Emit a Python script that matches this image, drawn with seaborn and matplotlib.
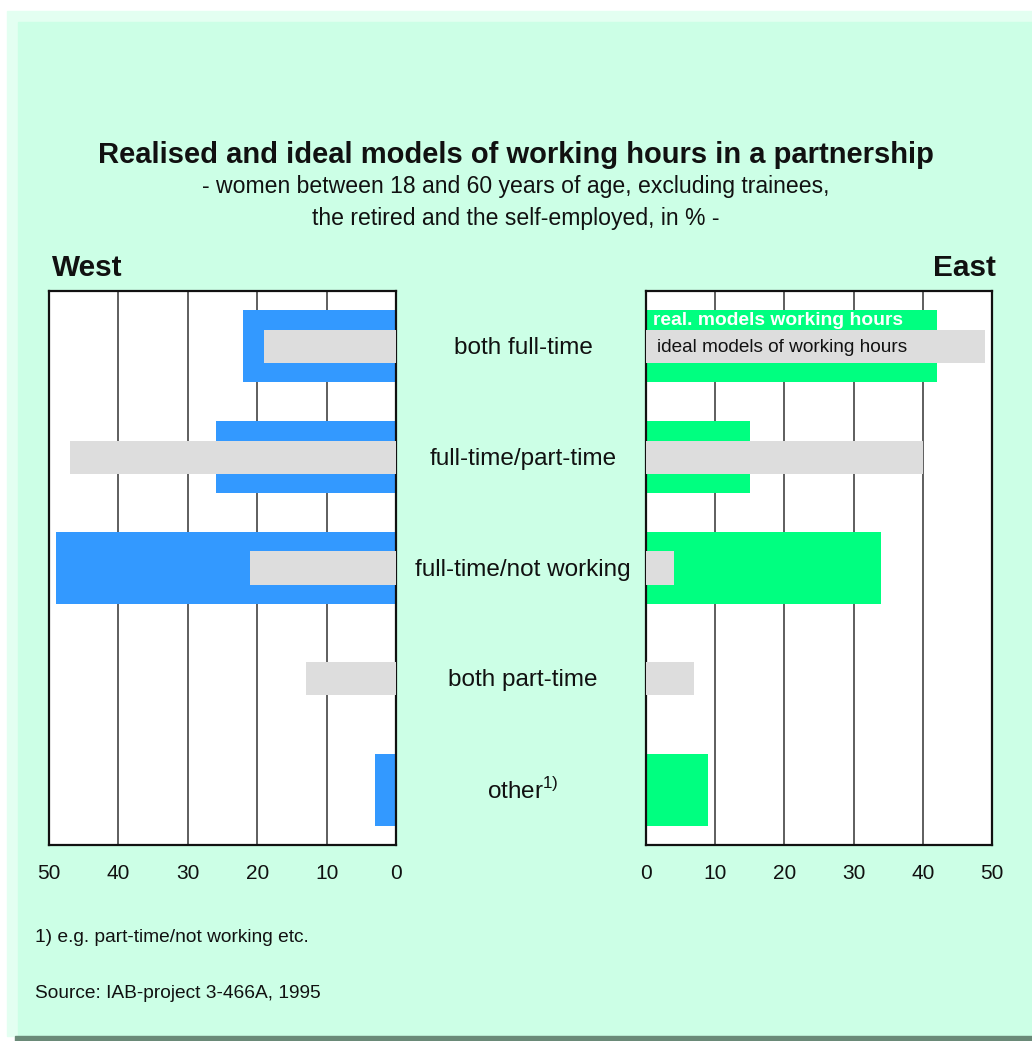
import matplotlib
matplotlib.use("Agg")
import matplotlib.pyplot as plt
import matplotlib.patches as mpatches
import matplotlib.transforms as mtransforms
import seaborn as sns
import pandas as pd

# ---- data ----
categories = ["both full-time", "full-time/part-time", "full-time/not working",
              "both part-time", "other"]
category_labels = ["both full-time", "full-time/part-time", "full-time/not working",
                   "both part-time", "other$^{\\mathrm{1)}}$"]
west_real = [22, 26, 49, 0, 3]
west_ideal = [19, 47, 21, 13, 0]
east_real = [42, 15, 34, 0, 9]
east_ideal = [49, 40, 4, 7, 0]
ticks = [0, 10, 20, 30, 40, 50]

sns.set_theme(style="white")
plt.rcParams["font.family"] = ["Liberation Sans", "DejaVu Sans"]
plt.rcParams["mathtext.fontset"] = "custom"
plt.rcParams["mathtext.rm"] = "Liberation Sans"

W, H = 1032, 1041
fig = plt.figure(figsize=(W / 100, H / 100), dpi=100, facecolor="white")

def fx(px):
    return px / W

def fy(py):
    return 1 - py / H

# background panels
fig.patches.append(mpatches.Rectangle((fx(7), fy(1036)), fx(W - 7), fy(11) - fy(1036),
                                      transform=fig.transFigure, color="#e3fff1", zorder=-3))
fig.patches.append(mpatches.Rectangle((fx(18), fy(1036)), fx(W - 18), fy(22) - fy(1036),
                                      transform=fig.transFigure, color="#ccffe6", zorder=-2))
fig.patches.append(mpatches.Rectangle((fx(15), 0), fx(W - 15), fy(1036),
                                      transform=fig.transFigure, color="#6a8a78", zorder=-2))

BLUE = "#3399ff"
GREEN = "#00ff80"
GRAY = "#dddddd"

ax_top, ax_bot = 291, 845
axL = fig.add_axes([fx(49), fy(ax_bot), fx(396 - 49), fy(ax_top) - fy(ax_bot)])
axR = fig.add_axes([fx(646), fy(ax_bot), fx(992 - 646), fy(ax_top) - fy(ax_bot)])

dfW = pd.DataFrame({"cat": categories, "real": west_real, "ideal": west_ideal})
dfE = pd.DataFrame({"cat": categories, "real": east_real, "ideal": east_ideal})

for ax, df, col in [(axL, dfW, BLUE), (axR, dfE, GREEN)]:
    ax.set_facecolor("white")
    sns.barplot(data=df, y="cat", x="real", order=categories, orient="h",
                color=col, saturation=1, width=0.65, ax=ax, zorder=2)
    sns.barplot(data=df, y="cat", x="ideal", order=categories, orient="h",
                color=GRAY, saturation=1, width=0.30, ax=ax, zorder=3)
    for p in ax.patches:
        p.set_edgecolor("none")
    ax.set_xlim(0, 50)
    ax.set_ylim(4.5, -0.5)
    ax.set_xticks(ticks)
    ax.set_xticklabels([str(t) for t in ticks], fontsize=15, color="#111111")
    ax.set_yticks([])
    ax.set_xlabel("")
    ax.set_ylabel("")
    ax.set_axisbelow(True)
    ax.grid(axis="x", color="#333333", linewidth=1.1)
    ax.grid(axis="y", visible=False)
    ax.tick_params(axis="x", length=0, pad=14)
    for s in ax.spines.values():
        s.set_visible(True)
        s.set_color("#111111")
        s.set_linewidth(1.6)

axL.invert_xaxis()

# category labels between panels
trans = mtransforms.blended_transform_factory(fig.transFigure, axR.transData)
for i, lab in enumerate(category_labels):
    axR.text(fx(523), i + 0.015, lab, transform=trans, ha="center", va="center",
             fontsize=17.5, color="#111111", clip_on=False)

# legend texts on east bars
axR.text(0.95, -0.235, "real. models working hours", ha="left", va="center",
         fontsize=13.9, fontweight="bold", color="white", zorder=5)
axR.text(1.6, 0.01, "ideal models of working hours", ha="left", va="center",
         fontsize=13.7, color="#111111", zorder=5)

# titles
fig.text(0.5, fy(155), "Realised and ideal models of working hours in a partnership",
         ha="center", va="center", fontsize=21, fontweight="bold", color="#111111")
fig.text(0.5, fy(187), "- women between 18 and 60 years of age, excluding trainees,",
         ha="center", va="center", fontsize=16.6, color="#111111")
fig.text(0.5, fy(218), "the retired and the self-employed, in % -",
         ha="center", va="center", fontsize=16.6, color="#111111")
fig.text(fx(52), fy(268), "West", ha="left", va="center", fontsize=21.4,
         fontweight="bold", color="#111111")
fig.text(fx(996), fy(268), "East", ha="right", va="center", fontsize=21.4,
         fontweight="bold", color="#111111")

# footnotes
fig.text(fx(35), fy(938), "1) e.g. part-time/not working etc.", ha="left", va="center",
         fontsize=13.8, color="#111111")
fig.text(fx(35), fy(993), "Source: IAB-project 3-466A, 1995", ha="left", va="center",
         fontsize=13.8, color="#111111")

fig.savefig("out.png", dpi=100, facecolor=fig.get_facecolor())
